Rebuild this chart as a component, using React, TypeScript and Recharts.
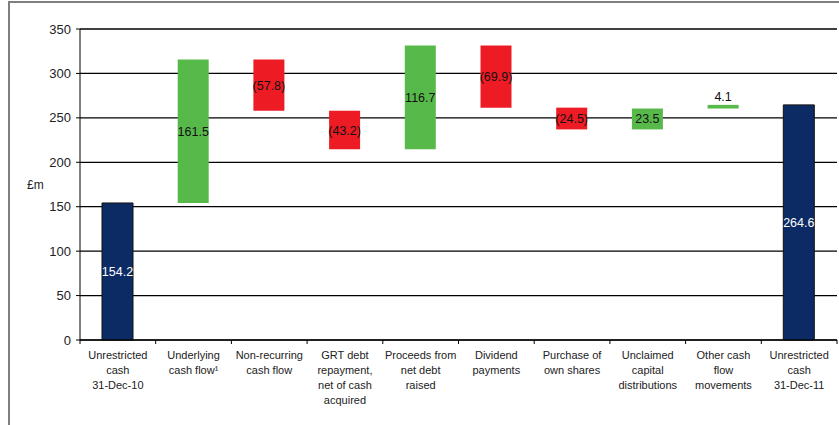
import { BarChart, Bar, XAxis, YAxis, CartesianGrid, Cell, LabelList } from "recharts";

const categories = [
  "Unrestricted\ncash\n31-Dec-10",
  "Underlying\ncash flow¹",
  "Non-recurring\ncash flow",
  "GRT debt\nrepayment,\nnet of cash\nacquired",
  "Proceeds from\nnet debt\nraised",
  "Dividend\npayments",
  "Purchase of\nown shares",
  "Unclaimed\ncapital\ndistributions",
  "Other cash\nflow\nmovements",
  "Unrestricted\ncash\n31-Dec-11",
];
const amounts = [154.2, 161.5, -57.8, -43.2, 116.7, -69.9, -24.5, 23.5, 4.1, 264.6];
const isTotal = [true, false, false, false, false, false, false, false, false, true];
const yTicks = [0, 50, 100, 150, 200, 250, 300, 350];

const NAVY = "#0C2A64";
const GREEN = "#58B94B";
const RED = "#ED1C24";
const FONT = "'Liberation Sans', Arial, sans-serif";

const PLOT_LEFT = 80;
const PLOT_RIGHT = 837;
const BAND = (PLOT_RIGHT - PLOT_LEFT) / categories.length;

let running = 0;
const data = categories.map((name, i) => {
  const v = amounts[i];
  let base = 0;
  if (isTotal[i]) {
    running = v;
  } else {
    base = v >= 0 ? running : running + v;
    running += v;
  }
  return { name, base, delta: Math.abs(v), value: v, total: isTotal[i] };
});

function fmt(v: number) {
  return v < 0 ? `(${Math.abs(v).toFixed(1)})` : v.toFixed(1);
}

function CategoryTick(props: any) {
  const { x, y, payload, index } = props;
  const lines = String(payload.value).split("\n");
  const left = x - BAND / 2;
  return (
    <g>
      <line x1={left} y1={y} x2={left} y2={y + 4} stroke="#000" />
      {index === categories.length - 1 && (
        <line x1={left + BAND} y1={y} x2={left + BAND} y2={y + 4} stroke="#000" />
      )}
      <text textAnchor="middle" fontFamily={FONT} fontSize={11} fill="#222">
        {lines.map((l, k) => (
          <tspan key={k} x={x} y={y + 19 + k * 15}>
            {l}
          </tspan>
        ))}
      </text>
    </g>
  );
}

function ValueLabel(props: any) {
  const { x, y, width, height, index } = props;
  const d = data[index];
  const small = Math.abs(height) < 14;
  const cy = small ? y - 8 : y + height / 2;
  return (
    <text
      x={x + width / 2}
      y={cy}
      dy={4.5}
      textAnchor="middle"
      fontFamily={FONT}
      fontSize={12.5}
      fill={d.total ? "#fff" : "#111"}
    >
      {fmt(d.value)}
    </text>
  );
}

export default function App() {
  return (
    <div style={{ position: "absolute", left: 0, top: 0, width: 839, height: 425, background: "#fff", overflow: "hidden" }}>
      <div
        style={{
          position: "absolute",
          left: 8,
          top: 1,
          width: 900,
          height: 500,
          borderLeft: "2px solid #7f7f7f",
          borderTop: "2px solid #7f7f7f",
        }}
      />
      <div style={{ position: "absolute", left: 0, top: 0 }}>
        <BarChart
          width={839}
          height={425}
          data={data}
          margin={{ top: 29, right: 839 - PLOT_RIGHT, bottom: 0, left: 40 }}
          barSize={31}
        >
          <CartesianGrid vertical={false} stroke="#000" strokeWidth={1.3} />
          <XAxis
            dataKey="name"
            interval={0}
            height={85}
            tickLine={false}
            tickSize={0}
            tickMargin={0}
            axisLine={{ stroke: "#000" }}
            tick={<CategoryTick />}
          />
          <YAxis
            domain={[0, 350]}
            ticks={yTicks}
            width={40}
            tickSize={4}
            tickMargin={5}
            axisLine={{ stroke: "#000" }}
            tickLine={{ stroke: "#000" }}
            tick={{ fill: "#222", fontSize: 13, fontFamily: FONT }}
          />
          <YAxis
            yAxisId="r"
            orientation="right"
            width={0}
            tick={false}
            tickLine={false}
            axisLine={{ stroke: "#000" }}
          />
          <Bar dataKey="base" stackId="w" fill="transparent" isAnimationActive={false} />
          <Bar dataKey="delta" stackId="w" isAnimationActive={false}>
            {data.map((d, i) => (
              <Cell
                key={i}
                fill={d.total ? NAVY : d.value >= 0 ? GREEN : RED}
                stroke={d.total ? "#111" : "none"}
                strokeWidth={d.total ? 1 : 0}
              />
            ))}
            <LabelList dataKey="value" content={<ValueLabel />} />
          </Bar>
        </BarChart>
      </div>
      <div
        style={{
          position: "absolute",
          left: 27,
          top: 178,
          fontFamily: FONT,
          fontSize: 12,
          color: "#222",
        }}
      >
        £m
      </div>
    </div>
  );
}
